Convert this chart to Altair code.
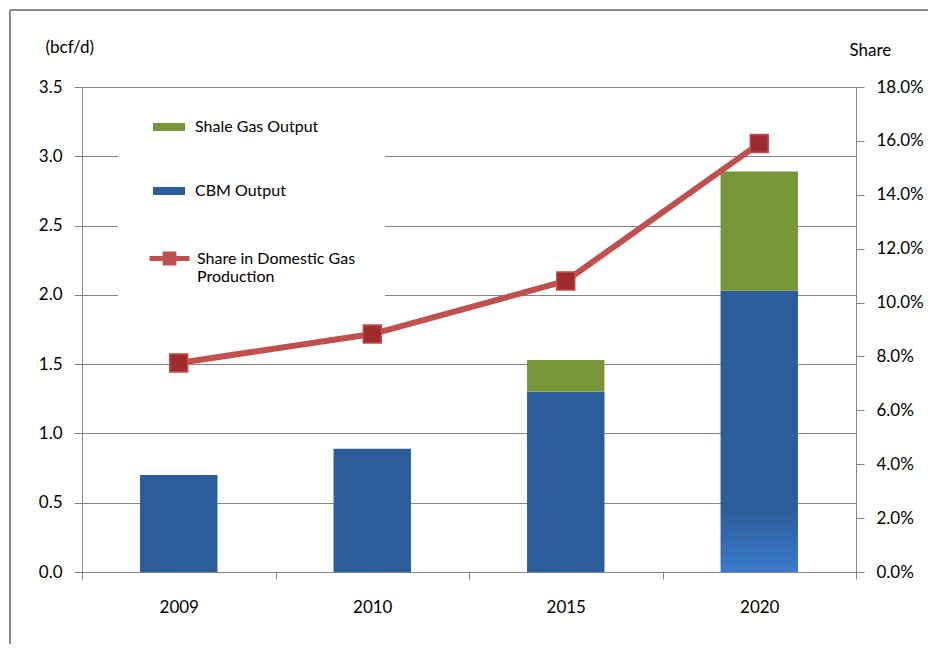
import altair as alt
import pandas as pd

years = ["2009", "2010", "2015", "2020"]
cbm = [0.70, 0.89, 1.30, 2.03]
shale = [0.0, 0.0, 0.23, 0.86]
share = [0.0776, 0.0883, 0.108, 0.159]

series_names = ["Shale Gas Output", "CBM Output"]
line_name = "Share in Domestic Gas Production"

GREEN = "#77963A"
BLUE = "#2C5D9A"
LIGHTBLUE = "#3A7BCB"
RED = "#C0504D"
DARKRED = "#A02B2D"
GRAY = "#868686"
FONT = "Lato"

rows = []
for i, y in enumerate(years):
    rows.append({"year": y, "series": "CBM Output", "value": cbm[i], "ord": 0})
    if shale[i] > 0:
        rows.append({"year": y, "series": "Shale Gas Output", "value": shale[i], "ord": 1})
bars_df = pd.DataFrame(rows)
line_df = pd.DataFrame({"year": years, "share": share, "name": [line_name] * len(years)})

xscale = alt.Scale(paddingInner=0, paddingOuter=0)
xenc = alt.X(
    "year:N",
    sort=years,
    scale=xscale,
    axis=alt.Axis(
        title=None, labelAngle=0, domainColor=GRAY, tickColor=GRAY, tickSize=7,
        tickBand="extent", labelFontSize=17, labelPadding=20, labelFont=FONT,
        labelColor="#000000",
    ),
)

gradient_fill = {
    "gradient": "linear", "x1": 0, "y1": 0, "x2": 0, "y2": 1,
    "stops": [
        {"offset": 0, "color": BLUE},
        {"offset": 0.78, "color": BLUE},
        {"offset": 1, "color": LIGHTBLUE},
    ],
}

fill_field = alt.Fill(
    "series:N",
    scale=alt.Scale(domain=series_names, range=[GREEN, BLUE]),
    legend=alt.Legend(
        title=None, orient="none", legendX=61, legendY=14, padding=10,
        rowPadding=40, labelOffset=10, zindex=2,
        symbolType="M-1,-0.25H1V0.25H-1Z", symbolSize=1024, symbolStrokeWidth=0,
        labelFont=FONT, labelFontSize=16, labelColor="#000000",
    ),
)

bars = alt.Chart(bars_df).mark_bar(width=alt.RelativeBandSize(0.4)).encode(
    x=xenc,
    y=alt.Y(
        "value:Q",
        stack="zero",
        scale=alt.Scale(domain=[0, 3.5], nice=False),
        axis=alt.Axis(
            title="(bcf/d)", titleAngle=0, titleAlign="left", titleBaseline="middle",
            titleX=-37, titleY=-40, titleFont=FONT, titleFontSize=17, titleFontWeight="normal",
            titleColor="#000000",
            values=[0, 0.5, 1.0, 1.5, 2.0, 2.5, 3.0, 3.5], format=".1f",
            labelFont=FONT, labelFontSize=17, labelColor="#000000", labelPadding=12,
            tickSize=8, tickColor=GRAY, domainColor=GRAY, gridColor=GRAY, grid=True,
        ),
    ),
    fill=alt.condition(
        "datum.year == '2020' && datum.series == 'CBM Output'",
        alt.value(gradient_fill),
        fill_field,
    ),
    order=alt.Order("ord:Q"),
)

right_axis = alt.Axis(
    orient="right", title="Share", titleAngle=0, titleAlign="left",
    titleBaseline="middle", titleX=-7, titleY=-37, titleFont=FONT,
    titleFontSize=17, titleFontWeight="normal", titleColor="#000000",
    values=[0, 0.02, 0.04, 0.06, 0.08, 0.10, 0.12, 0.14, 0.16, 0.18],
    format=".1%", labelFont=FONT, labelFontSize=17, labelColor="#000000",
    labelPadding=12, tickSize=8, tickColor=GRAY, domainColor=GRAY, grid=False,
)
yshare = alt.Y("share:Q", scale=alt.Scale(domain=[0, 0.18], nice=False), axis=right_axis)

line = alt.Chart(line_df).mark_line(strokeWidth=6).encode(
    x=alt.X("year:N", sort=years, scale=xscale),
    y=yshare,
    stroke=alt.Stroke(
        "name:N",
        scale=alt.Scale(domain=[line_name], range=[RED]),
        legend=alt.Legend(
            title=" ", titleFontSize=1, titlePadding=109, orient="none",
            legendX=36, legendY=10, padding=29, fillColor="white", zindex=1,
            labelOffset=5, symbolType="M-1,0H1M-0.22,-0.22H0.22V0.22H-0.22Z",
            symbolSize=1600, symbolStrokeWidth=5, symbolFillColor=DARKRED,
            labelFont=FONT, labelFontSize=16, labelColor="#000000",
            labelExpr="datum.label == 'Share in Domestic Gas Production' ? ['Share in Domestic Gas', 'Production'] : datum.label",
        ),
    ),
)

points = alt.Chart(line_df).mark_point(
    shape="square", filled=True, size=324, fill=DARKRED, stroke=RED, strokeWidth=1.5, opacity=1
).encode(
    x=alt.X("year:N", sort=years, scale=xscale),
    y=yshare,
)

border_left = alt.Chart(line_df).mark_rule(color="#8c8c8c", strokeWidth=1.5).encode(
    x=alt.value(-72), y=alt.value(-77), y2=alt.value(557)
)
border_top = alt.Chart(line_df).mark_rule(color="#8c8c8c", strokeWidth=1.5).encode(
    x=alt.value(-72), x2=alt.value(846), y=alt.value(-77)
)

chart = (
    alt.layer(bars, alt.layer(line, points), border_left, border_top)
    .resolve_scale(y="independent", fill="independent", stroke="independent")
    .properties(
        width=774, height=485, autosize="none",
        padding={"left": 74, "top": 79, "right": 72, "bottom": 72},
        background="white",
    )
    .configure_view(strokeWidth=0)
)

chart.save("out.html", embed_options={"renderer": "svg", "actions": False})
